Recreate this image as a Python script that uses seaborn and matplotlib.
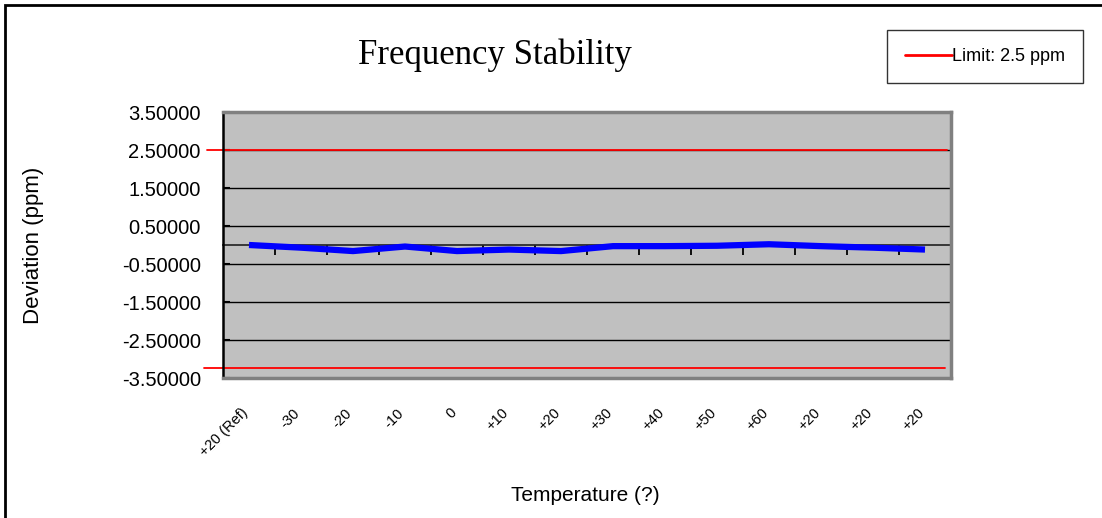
import numpy as np
import pandas as pd
import seaborn as sns
import matplotlib.pyplot as plt
from matplotlib.patches import Rectangle
import matplotlib.transforms as mtransforms

# Data
temps = ["+20 (Ref)", "-30", "-20", "-10", "0", "+10", "+20", "+30",
         "+40", "+50", "+60", "+20", "+20", "+20"]
deviation = [0.00, -0.07, -0.16, -0.04, -0.16, -0.12, -0.16, -0.03,
             -0.03, -0.02, 0.02, -0.03, -0.07, -0.12]
limit_upper = 2.5
limit_lower = -3.24
y_ticks = [3.5, 2.5, 1.5, 0.5, -0.5, -1.5, -2.5, -3.5]

df = pd.DataFrame({"pos": np.arange(len(temps)), "dev": deviation})

sns.set_theme(style="white")
plt.rcParams['font.family'] = ['Liberation Sans', 'DejaVu Sans']
plt.rcParams.update({"text.color": "black", "axes.labelcolor": "black",
                     "xtick.color": "black", "ytick.color": "black"})

fig = plt.figure(figsize=(11.02, 5.18), dpi=100)
ax = fig.add_axes([223 / 1102, 1 - 378 / 518, 728 / 1102, 266 / 518])
ax.set_facecolor("#C0C0C0")

# gridlines
for t in y_ticks[1:-1]:
    ax.axhline(t, color="black", lw=1.0, zorder=1)

# limit lines (stick out a bit to the left like the original)
ax.axhline(limit_upper, xmin=-0.022, xmax=0.994, color="red", lw=1.3,
           clip_on=False, zorder=2)
ax.axhline(limit_lower, xmin=-0.026, xmax=0.992, color="red", lw=1.3,
           clip_on=False, zorder=2)

sns.lineplot(data=df, x="pos", y="dev", color="#0000FF", lw=4.5, ax=ax,
             zorder=3, solid_capstyle="butt")

ax.set_xlim(-0.5, len(temps) - 0.5)
ax.set_ylim(-3.5, 3.5)

# y axis
ax.set_yticks(y_ticks)
ax.set_yticklabels([f"{v:.5f}" for v in y_ticks], fontsize=14.5)
ax.tick_params(axis="y", direction="in", length=5, width=1.5, color="black",
               left=True, pad=16)

# x axis labels at the bottom
ax.set_xticks(df["pos"])
ax.set_xticklabels(temps, fontsize=10.5, rotation=45, ha="right", va="top",
                   rotation_mode="anchor")
ax.tick_params(axis="x", length=0, pad=20)
offset = mtransforms.ScaledTranslation(-8 / 100, 0, fig.dpi_scale_trans)
for lab in ax.get_xticklabels():
    lab.set_transform(lab.get_transform() + offset)

# zero axis with category boundary ticks
zero_ax = ax.secondary_xaxis(0.5)
zero_ax.spines["bottom"].set_color("black")
zero_ax.spines["bottom"].set_linewidth(1.5)
zero_ax.set_xticks(np.arange(len(temps)) + 0.5)
zero_ax.set_xticklabels([])
zero_ax.tick_params(axis="x", direction="in", length=7, width=1.3, color="black")

for side in ["top", "right", "bottom"]:
    ax.spines[side].set_color("#808080")
    ax.spines[side].set_linewidth(2.5)
ax.spines["left"].set_color("black")
ax.spines["left"].set_linewidth(1.8)

ax.set_xlabel("Temperature (?)", fontsize=15)
ax.set_ylabel("Deviation (ppm)", fontsize=16)
ax.xaxis.set_label_coords((585 - 223) / 728, (378 - 486) / 266)
ax.yaxis.set_label_coords((44 - 223) / 728, 0.5)

fig.text(495 / 1102, 1 - 55 / 518, "Frequency Stability", fontsize=25,
         family="Liberation Serif", ha="center", va="center")

# legend box
handle = plt.Line2D([], [], color="red", lw=2)
leg = fig.legend([handle], ["Limit: 2.5 ppm"], loc="upper right",
                 bbox_to_anchor=(1083 / 1102, 1 - 30 / 518), fontsize=13,
                 frameon=True, fancybox=False, handlelength=2.6,
                 handletextpad=0.0, borderpad=1.0, borderaxespad=0)
leg.get_frame().set_edgecolor("black")
leg.get_frame().set_linewidth(1.0)

# chart border
fig.patches.append(Rectangle((5 / 1102, -0.1), 1.2, 1 - 5 / 518 + 0.1,
                             transform=fig.transFigure, fill=False,
                             edgecolor="black", lw=2))

fig.savefig("out.png", dpi=100)
